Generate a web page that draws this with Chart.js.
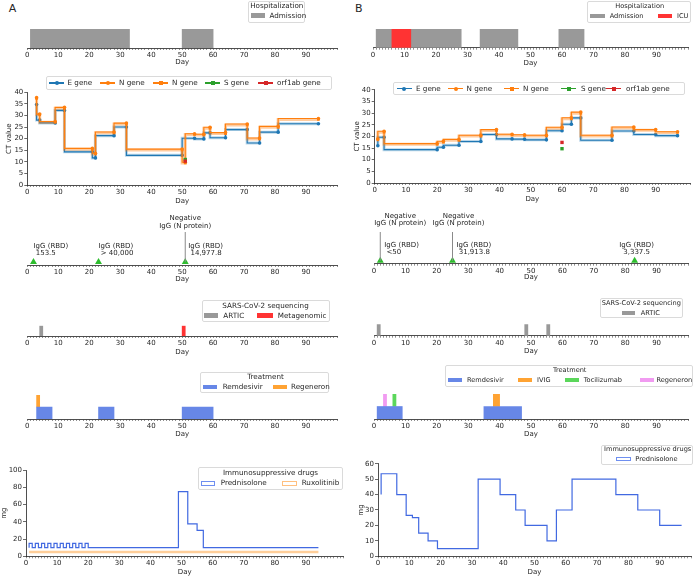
<!DOCTYPE html>
<html>
<head>
<meta charset="utf-8">
<script src="https://cdn.jsdelivr.net/npm/chart.js@4"></script>
<style>
  body { margin: 0; width: 696px; height: 577px; position: relative; overflow: hidden; background: #fff; font-family: 'DejaVu Sans', sans-serif; }
  .plot { position: absolute; }
  .lg { position: absolute; box-sizing: border-box; border: 1px solid #dadada; border-radius: 2px; background: rgba(255,255,255,0.85); }
  .t { position: absolute; font-size: 7.2px; line-height: 1; white-space: nowrap; color: #262626; }
  .t.b { font-size: 6.6px; }
  .sw { position: absolute; box-sizing: border-box; }
</style>
</head>
<body>
<script>
// ---- data, panel A ----
const hospAdmitA = [[1, 33], [50, 60]];

const eDaysA = [3, 4, 9, 12, 21, 22, 28, 32, 50, 54, 57, 59, 64, 71, 75, 81, 94];
const eGeneA = [34.7, 28, 26.8, 32.2, 14.3, 11.7, 21.3, 25, 12.8, 20.2, 19.9, 22.5, 20.4, 23.9, 18.1, 22.8, 26.4];
const nDaysA = [3, 4, 9, 12, 21, 22, 28, 32, 50, 51, 54, 57, 59, 64, 71, 75, 81, 94];
const nGeneA = [37.7, 30.6, 27.4, 33.5, 15.8, 13.7, 22.9, 26.7, 15.5, 9.8, 22.1, 21.9, 24.9, 22.6, 26.3, 20.3, 25.3, 28.7];
const n2GeneA = [37.4, 30.3, 27.1, 33.1, 15.4, 13.4, 22.5, 26.3, 15.1, 9.5, 21.8, 21.6, 24.5, 22.2, 25.9, 19.9, 24.9, 28.3];
const sDaysA = [51], sGeneA = [11];
const oDaysA = [51], orfGeneA = [10.3];

const iggDaysA = [2, 23, 51];
const iggLevelA = [0, 0, 0];
const iggTextA = ['153.5', '> 40,000', '14,977.8'];
const negDaysA = [51];

const articA = [4];
const metaA = [50];

const remdesivirA = [[3, 8], [23, 28], [50, 60]];
const regeneronA = [[3, 4]];

const predDaysA = [1, 1, 2, 3, 4, 5, 6, 7, 8, 9, 10, 11, 12, 13, 14, 15, 16, 17, 18, 19, 20, 21, 49, 52, 55, 57, 94];
const predA = [10, 15, 10, 15, 10, 15, 10, 15, 10, 15, 10, 15, 10, 15, 10, 15, 10, 15, 10, 15, 10, 10, 75, 37.5, 30, 10, 10];
const ruxDaysA = [1, 94];
const ruxA = [5, 5];

// ---- data, panel B ----
const hospAdmitB = [[1, 28], [34, 46], [59, 67]];
const hospIcuB = [[6, 12]];

const eDaysB = [1, 3, 20, 22, 27, 34, 39, 44, 48, 55, 60, 63, 66, 76, 83, 90, 97];
const eGeneB = [16, 19.6, 14.3, 15.3, 16.2, 17.8, 20.8, 18.9, 18.8, 18.5, 22.4, 25.2, 27.9, 18.3, 22.3, 20.8, 20.3];
const nDaysB = [1, 3, 20, 22, 27, 34, 39, 44, 48, 55, 60, 63, 66, 76, 83, 90, 97];
const nGeneB = [18.9, 22.2, 16.9, 17.9, 18.7, 20.5, 22.9, 20.9, 20.7, 20.5, 23.9, 28, 30.4, 20.5, 24, 22.9, 22];
const n2GeneB = [18.5, 21.8, 16.6, 17.5, 18.3, 20.1, 22.5, 20.6, 20.4, 20.2, 23.5, 27.5, 29.9, 20.1, 23.6, 22.6, 21.7];
const sDaysB = [60], sGeneB = [14.7];
const oDaysB = [60], orfGeneB = [17.4];

const iggDaysB = [2, 25, 83];
const iggLevelB = [0, 0, 0];
const iggTextB = ['<50', '31,913.8', '3,337.5'];
const negDaysB = [2, 25];

const articB = [1, 48, 55];

const remdesivirB = [[1, 9], [35, 47]];
const ivigB = [[38, 40]];
const tocilizumabB = [[6, 7]];
const regeneronB = [[3, 4]];

const predDaysB = [1, 1, 6, 9, 11, 13, 16, 19, 32, 39, 44, 47, 54, 57, 62, 76, 83, 90, 97];
const predB = [40, 53.5, 40, 26.5, 25, 15, 10, 5, 50, 40, 30, 20, 10, 30, 50, 40, 30, 20, 20];

// ---- colours ----
const GRAY = '#999999', RED = '#ff3333', BLUE = '#6787e7', ORANGE = '#ffa333', GREEN = '#5bd75b', PINK = '#f19bf1';

Chart.defaults.font.family = "'DejaVu Sans', sans-serif";
Chart.defaults.font.size = 7;
Chart.defaults.color = '#262626';

const px = v => v + 'px';
function el(cls, css, text) {
  const d = document.createElement('div');
  d.className = cls;
  Object.assign(d.style, css);
  if (text != null) d.textContent = text;
  document.body.appendChild(d);
  return d;
}
const pts = (xs, ys) => xs.map((x, i) => ({x: x, y: ys[i]}));
const spans = days => days.map(d => [d, d + 1]);

function dayAxis(max, xh) {
  return {
    type: 'linear', min: 0, max: max,
    border: {display: true, color: '#222', width: 0.8},
    grid: {display: true, drawOnChartArea: false, drawTicks: true, tickLength: 2, tickColor: '#444', tickWidth: 0.6},
    ticks: {stepSize: 1, autoSkip: false, maxRotation: 0, minRotation: 0, padding: 1,
      callback: v => (v % 10 === 0 && v < 100) ? String(v) : ''},
    title: {display: true, text: 'Day', padding: 0},
    afterFit: s => { s.height = xh; }
  };
}

function valAxis(max, step, title, yw) {
  return {
    type: 'linear', min: 0, max: max,
    border: {display: true, color: '#222', width: 0.8},
    grid: {display: true, drawOnChartArea: false, drawTicks: true, tickLength: 3, tickColor: '#444', tickWidth: 0.8},
    ticks: {stepSize: step, padding: 1},
    title: {display: true, text: title, padding: 0},
    afterFit: s => { s.width = yw; }
  };
}

function makeChart(rect, area, type, data, options, plugins) {
  const wrap = el('plot', {left: px(rect.x), top: px(rect.y), width: px(rect.w), height: px(rect.h)});
  const cv = document.createElement('canvas');
  cv.width = rect.w; cv.height = rect.h;
  cv.style.width = px(rect.w); cv.style.height = px(rect.h);
  wrap.appendChild(cv);
  options.responsive = false;
  options.animation = false;
  options.layout = {padding: {
    left: area.l - rect.x - (area.yw || 0),
    right: rect.x + rect.w - area.r,
    top: area.t - rect.y,
    bottom: rect.y + rect.h - area.b - area.xh
  }};
  options.plugins = Object.assign({legend: {display: false}, tooltip: {enabled: false}}, options.plugins || {});
  return new Chart(cv, {type: type, data: data, options: options, plugins: plugins || []});
}

function timeline(rect, area, rows, sets) {
  return makeChart(rect, area, 'bar', {
    labels: rows,
    datasets: sets.map(s => ({
      label: s.label,
      data: s.spans.map(sp => ({x: sp, y: s.row})),
      backgroundColor: s.color,
      order: s.order || 0
    }))
  }, {
    indexAxis: 'y',
    datasets: {bar: {grouped: false, barPercentage: 1, categoryPercentage: 1, borderWidth: 0, borderSkipped: false}},
    scales: {x: dayAxis(area.max, area.xh), y: {type: 'category', display: false, offset: true}}
  });
}

function ctChart(rect, area, eD, eV, nD, nV, n2V, sD, sV, oD, oV) {
  const line = {stepped: 'after', clip: false, pointBorderWidth: 0};
  return makeChart(rect, area, 'line', {datasets: [
    Object.assign({label: 'E gene band', data: pts(eD, eV), borderColor: 'rgba(31,119,180,0.3)', borderWidth: 3, pointRadius: 0, order: 5}, line),
    Object.assign({label: 'E gene', data: pts(eD, eV), borderColor: '#1f77b4', backgroundColor: '#1f77b4', borderWidth: 1.1, pointRadius: 1.8, order: 4}, line),
    Object.assign({label: 'N gene', data: pts(nD, n2V), borderColor: 'rgba(255,127,14,0.4)', backgroundColor: '#ff7f0e', borderWidth: 3, pointStyle: 'rect', pointRadius: 1.9, order: 3}, line),
    Object.assign({label: 'N gene', data: pts(nD, nV), borderColor: '#ff7f0e', backgroundColor: '#ff7f0e', borderWidth: 1.1, pointRadius: 1.8, order: 2}, line),
    {label: 'S gene', data: pts(sD, sV), showLine: false, pointStyle: 'rect', pointRadius: 2.4, backgroundColor: '#2ca02c', pointBorderWidth: 0, clip: false, order: 1},
    {label: 'orf1ab gene', data: pts(oD, oV), showLine: false, pointStyle: 'rect', pointRadius: 2.4, backgroundColor: '#d62728', pointBorderWidth: 0, clip: false, order: 0}
  ]}, {
    scales: {x: dayAxis(area.max, area.xh), y: valAxis(40, 5, 'CT value', area.yw)}
  });
}

function iggChart(rect, area, days, level, values, negDays, note) {
  const notes = {
    id: 'iggNotes',
    afterDatasetsDraw(chart) {
      const {ctx, scales: {x, y}} = chart;
      const y0 = y.getPixelForValue(0);
      ctx.save();
      ctx.font = "7px 'DejaVu Sans'";
      ctx.fillStyle = '#262626';
      ctx.textBaseline = 'middle';
      negDays.forEach((d, i) => {
        const xp = x.getPixelForValue(d);
        ctx.strokeStyle = '#8a8a8a';
        ctx.lineWidth = 1;
        ctx.beginPath();
        ctx.moveTo(xp, y0);
        ctx.lineTo(xp, y.top);
        ctx.stroke();
        ctx.textAlign = 'center';
        ctx.fillText('Negative', xp + note.negDx[i], y.top - note.negUp[0]);
        ctx.fillText('IgG (N protein)', xp + note.negDx[i], y.top - note.negUp[1]);
      });
      days.forEach((d, i) => {
        const xp = x.getPixelForValue(d) + note.dx[i];
        ctx.textAlign = note.align[i];
        ctx.fillText('IgG (RBD)', xp, y0 - note.up[0]);
        ctx.fillText((note.align[i] === 'left' ? ' ' : '') + values[i], xp, y0 - note.up[1]);
      });
      ctx.restore();
    }
  };
  return makeChart(rect, area, 'scatter', {datasets: [{
    label: 'IgG', data: pts(days, level), pointStyle: 'triangle', pointRadius: 4,
    backgroundColor: '#2dbd2d', pointBorderWidth: 0, clip: false
  }]}, {
    scales: {x: dayAxis(area.max, area.xh), y: {type: 'linear', min: -0.1, max: 1, display: false}}
  }, [notes]);
}

function drugChart(rect, area, ymax, step, sets) {
  return makeChart(rect, area, 'line', {datasets: sets.map(s => ({
    label: s.label, data: pts(s.days, s.vals), stepped: 'before', borderColor: s.color,
    borderWidth: s.width, pointRadius: 0, clip: false
  }))}, {
    scales: {x: dayAxis(area.max, area.xh), y: valAxis(ymax, step, 'mg', area.yw)}
  });
}

// ---- panel A ----
timeline({x: 0, y: 22, w: 348, h: 46}, {l: 27.3, r: 337, t: 29, b: 48, xh: 18.2, max: 100}, ['row'],
  [{label: 'Admission', spans: hospAdmitA, row: 'row', color: GRAY}]);
ctChart({x: 0, y: 85, w: 348, h: 125}, {l: 27.3, r: 337, t: 92.3, b: 185, xh: 20.2, yw: 22.5, max: 100},
  eDaysA, eGeneA, nDaysA, nGeneA, n2GeneA, sDaysA, sGeneA, oDaysA, orfGeneA);
iggChart({x: 0, y: 205, w: 348, h: 85}, {l: 27.3, r: 337, t: 232, b: 265, xh: 18.2, max: 100},
  iggDaysA, iggLevelA, iggTextA, negDaysA,
  {dx: [0, 0, 3], align: ['left', 'left', 'left'], up: [16, 9], negDx: [0], negUp: [14, 6]});
timeline({x: 0, y: 295, w: 348, h: 62}, {l: 27.3, r: 337, t: 325.7, b: 336, xh: 19.9, max: 100}, ['row'], [
  {label: 'ARTIC', spans: spans(articA), row: 'row', color: GRAY},
  {label: 'Metagenomic', spans: spans(metaA), row: 'row', color: RED}
]);
timeline({x: 0, y: 385, w: 348, h: 55}, {l: 27.3, r: 337, t: 395, b: 419, xh: 19.2, max: 100}, ['upper', 'lower'], [
  {label: 'Remdesivir', spans: remdesivirA, row: 'lower', color: BLUE},
  {label: 'Regeneron', spans: regeneronA, row: 'upper', color: ORANGE}
]);
drugChart({x: 0, y: 460, w: 348, h: 117}, {l: 26, r: 343.3, t: 470, b: 556.3, xh: 19.6, yw: 25.7, max: 102}, 100, 20, [
  {label: 'Prednisolone', days: predDaysA, vals: predA, color: '#4169e1', width: 1.2},
  {label: 'Ruxolitinib', days: ruxDaysA, vals: ruxA, color: 'rgba(255,165,70,0.55)', width: 2.5}
]);

// ---- panel B ----
timeline({x: 348, y: 22, w: 348, h: 46}, {l: 373, r: 688, t: 29, b: 47.7, xh: 19.8, max: 100}, ['row'], [
  {label: 'ICU', spans: hospIcuB, row: 'row', color: RED, order: 0},
  {label: 'Admission', spans: hospAdmitB, row: 'row', color: GRAY, order: 1}
]);
ctChart({x: 348, y: 82, w: 348, h: 127}, {l: 374.7, r: 690, t: 89.7, b: 183, xh: 20.2, yw: 21.9, max: 101},
  eDaysB, eGeneB, nDaysB, nGeneB, n2GeneB, sDaysB, sGeneB, oDaysB, orfGeneB);
iggChart({x: 348, y: 205, w: 348, h: 85}, {l: 374, r: 688, t: 232, b: 263.7, xh: 17.8, max: 100},
  iggDaysB, iggLevelB, iggTextB, negDaysB,
  {dx: [4, 4, 2], align: ['left', 'left', 'center'], up: [15.5, 8.8], negDx: [20, 6], negUp: [16, 8.7]});
timeline({x: 348, y: 295, w: 348, h: 62}, {l: 374, r: 688, t: 324.3, b: 335.7, xh: 19.5, max: 100}, ['row'], [
  {label: 'ARTIC', spans: spans(articB), row: 'row', color: GRAY}
]);
timeline({x: 348, y: 385, w: 348, h: 55}, {l: 374, r: 688, t: 394, b: 419, xh: 19.5, max: 100}, ['upper', 'lower'], [
  {label: 'Remdesivir', spans: remdesivirB, row: 'lower', color: BLUE},
  {label: 'IVIG', spans: ivigB, row: 'upper', color: ORANGE},
  {label: 'Tocilizumab', spans: tocilizumabB, row: 'upper', color: GREEN},
  {label: 'Regeneron', spans: regeneronB, row: 'upper', color: PINK}
]);
drugChart({x: 348, y: 452, w: 348, h: 125}, {l: 378, r: 691, t: 463.7, b: 556.3, xh: 19.6, yw: 21.5, max: 100}, 60, 10, [
  {label: 'Prednisolone', days: predDaysB, vals: predB, color: '#4169e1', width: 1.2}
]);

// ---- legends & panel letters (html) ----
function text(x, y, s, center, cls) {
  const d = el('t', {left: px(x), top: px(y), transform: center ? 'translate(-50%,-50%)' : 'translateY(-50%)'}, s);
  if (cls) d.classList.add(cls);
  return d;
}
const textB = (x, y, s, center) => text(x, y, s, center, 'b');
function box(x, y, w, h) { el('lg', {left: px(x), top: px(y), width: px(w), height: px(h)}); }
function patch(x, y, w, h, fill) { el('sw', {left: px(x), top: px(y), width: px(w), height: px(h), background: fill}); }
function outline(x, y, w, h, color) { el('sw', {left: px(x), top: px(y), width: px(w), height: px(h), border: '1.2px solid ' + color}); }
function handle(x, y, color, round) {
  el('sw', {left: px(x), top: px(y - 0.6), width: '15px', height: '1.2px', background: color});
  el('sw', {left: px(x + 5.5), top: px(y - 2), width: '4px', height: '4px', background: color, borderRadius: round ? '50%' : '0'});
}
function ctLegend(bx, by, bw, bh, rowY, items, cls) {
  box(bx, by, bw, bh);
  items.forEach(it => { handle(it[0], rowY, it[2], it[3]); text(it[1], rowY, it[4], false, cls); });
}

const letterA = text(12.5, 7.8, 'A', true); letterA.style.fontSize = '11px';
const letterB = text(358.8, 7.5, 'B', true); letterB.style.fontSize = '11px';

box(247.7, 1, 57.5, 21.5);
text(276.8, 6.3, 'Hospitalization', true);
patch(250.5, 13.3, 14.5, 4.3, GRAY); text(269.5, 15.5, 'Admission');

box(587.3, 1, 104, 21.7);
textB(639.7, 6.3, 'Hospitalization', true);
patch(590.3, 14, 14.4, 4.3, GRAY); textB(609.7, 16, 'Admission');
patch(658, 14, 14, 4.3, RED); textB(677, 16, 'ICU');

ctLegend(46, 76, 286, 14, 83, [
  [49, 67.5, '#1f77b4', true, 'E gene'], [100, 119, '#ff7f0e', true, 'N gene'], [153, 172, '#ff7f0e', false, 'N gene'],
  [205, 224, '#2ca02c', false, 'S gene'], [258, 277, '#d62728', false, 'orf1ab gene']]);
ctLegend(393, 81.7, 292.3, 13.6, 88.7, [
  [396.5, 416, '#1f77b4', true, 'E gene'], [448, 466.5, '#ff7f0e', true, 'N gene'], [504, 523, '#ff7f0e', false, 'N gene'],
  [561, 581, '#2ca02c', false, 'S gene'], [606, 626, '#d62728', false, 'orf1ab gene']]);

box(201.7, 300, 128.3, 22.3);
text(265.5, 305.7, 'SARS-CoV-2 sequencing', true);
patch(204.3, 313.3, 14, 4.4, GRAY); text(223.3, 315.5, 'ARTIC');
patch(256.7, 313.3, 16, 4.4, RED); text(277.7, 315.5, 'Metagenomic');

box(599.7, 298.3, 83.3, 20);
textB(641.3, 303.3, 'SARS-CoV-2 sequencing', true);
patch(622, 311, 13.3, 4.2, GRAY); textB(640.7, 313, 'ARTIC');

box(200, 371.7, 129.3, 21);
text(265.5, 377.3, 'Treatment', true);
patch(203.3, 384.7, 14, 4.3, BLUE); text(222.7, 387, 'Remdesivir');
patch(272.7, 384.7, 14, 4.3, ORANGE); text(291, 387, 'Regeneron');

box(445.3, 365, 247.7, 21.7);
textB(569.7, 370, 'Treatment', true);
patch(448, 377.7, 14, 4.6, BLUE); textB(467, 380, 'Remdesivir');
patch(518, 377.7, 14, 4.6, ORANGE); textB(537, 380, 'IVIG');
patch(564.7, 377.7, 14, 4.6, GREEN); textB(583.7, 380, 'Tocilizumab');
patch(639.5, 377.7, 14, 4.6, PINK); textB(656.5, 380, 'Regeneron');

box(197.7, 466.7, 145, 23.3);
text(270.5, 472.7, 'Immunosuppressive drugs', true);
outline(200.7, 481, 14.3, 4.7, '#6f8ff0'); text(220.7, 483.3, 'Prednisolone');
outline(281.7, 481, 15, 4.7, '#ffc080'); text(301.7, 483.3, 'Ruxolitinib');

box(601.3, 445, 91.7, 20);
textB(647.7, 449.3, 'Immunosuppressive drugs', true);
outline(616.3, 456.7, 14.4, 4.3, '#6f8ff0'); textB(635.3, 459, 'Prednisolone');
</script>
</body>
</html>
